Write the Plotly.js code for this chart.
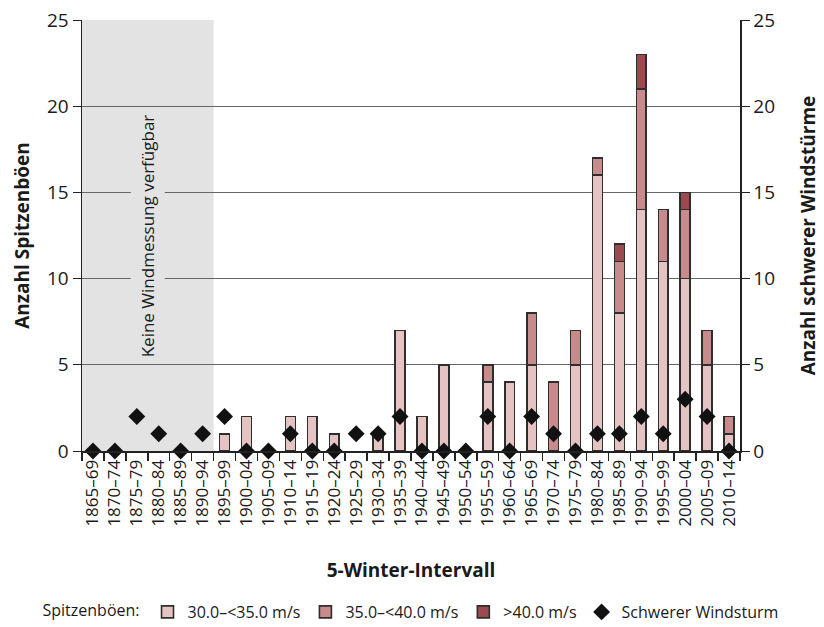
<!DOCTYPE html>
<html>
<head>
<meta charset="utf-8">
<script src="https://cdn.plot.ly/plotly-3.0.1.min.js"></script>
<style>html,body{margin:0;padding:0;background:#fff;}#chart{width:824px;height:627px;}</style>
</head>
<body>
<div id="chart"></div>
<script>
const categories = ["1865–69","1870–74","1875–79","1880–84","1885–89","1890–94","1895–99","1900–04","1905–09","1910–14","1915–19","1920–24","1925–29","1930–34","1935–39","1940–44","1945–49","1950–54","1955–59","1960–64","1965–69","1970–74","1975–79","1980–84","1985–89","1990–94","1995–99","2000–04","2005–09","2010–14"];
const gust30_35 = [0,0,0,0,0,0,1,2,0,2,2,1,0,1,7,2,5,0,4,4,5,0,5,16,8,14,11,10,5,1];
const gust35_40 = [0,0,0,0,0,0,0,0,0,0,0,0,0,0,0,0,0,0,1,0,3,4,2,1,3,7,3,4,2,1];
const gust40 =    [0,0,0,0,0,0,0,0,0,0,0,0,0,0,0,0,0,0,0,0,0,0,0,0,1,2,0,1,0,0];
const storms =    [0,0,2,1,0,1,2,0,0,1,0,0,1,1,2,0,0,0,2,0,2,1,0,1,1,2,1,3,2,0];
const yTicks = [0,5,10,15,20,25];

// zero-height bars are not drawn (avoid stray outlines)
const nz = arr => arr.map(v => v === 0 ? null : v);

const FONT = "Open Sans, Noto Sans, sans-serif";
const edge = {color:"#2e2e2e", width:1.6};
const traces = [
  {type:"bar", name:"30.0–<35.0 m/s", x:categories, y:nz(gust30_35), width:0.45,
   marker:{color:"#e6c3c3", line:edge}},
  {type:"bar", name:"35.0–<40.0 m/s", x:categories, y:nz(gust35_40), width:0.45,
   marker:{color:"#c78b8b", line:edge}},
  {type:"bar", name:">40.0 m/s", x:categories, y:nz(gust40), width:0.45,
   marker:{color:"#9b4a50", line:edge}},
  {type:"scatter", mode:"markers", name:"Schwerer Windsturm", x:categories, y:storms, yaxis:"y2",
   marker:{symbol:"diamond", color:"#111111", size:13}, cliponaxis:false}
];

const layout = {
  width:824, height:627,
  margin:{l:82, r:84, t:20, b:176, autoexpand:false},
  paper_bgcolor:"#ffffff", plot_bgcolor:"rgba(0,0,0,0)",
  font:{family:FONT, size:15, color:"#1a1a1a"},
  barmode:"stack",
  showlegend:true,
  legend:{orientation:"h", xref:"container", x:0.5, xanchor:"center", y:-0.3735, yanchor:"middle",
    title:{text:"Spitzenböen:", side:"left", font:{size:16}},
    font:{size:16}, traceorder:"normal", itemwidth:30, tracegroupgap:0},
  xaxis:{type:"category", categoryorder:"array", categoryarray:categories,
    range:[-0.5, categories.length-0.5], tickangle:-90, tickson:"boundaries",
    ticks:"outside", ticklen:8, tickcolor:"#222", tickwidth:1.5,
    showline:true, linecolor:"#222", linewidth:2, showgrid:false, zeroline:false,
    tickfont:{size:17}, automargin:false,
    title:{text:"<b>5-Winter-Intervall</b>", font:{size:19}, standoff:38}},
  yaxis:{range:[0,25], tickvals:yTicks, ticks:"outside", ticklen:8, tickcolor:"#222",
    showline:true, linecolor:"#222", linewidth:1.5, showgrid:true, gridcolor:"#666", gridwidth:1,
    zeroline:false, tickfont:{size:19}, automargin:false,
    title:{text:"<b>Anzahl Spitzenböen</b>", font:{size:19}, standoff:12}},
  yaxis2:{overlaying:"y", side:"right", range:[0,25], tickvals:yTicks, ticks:"outside", ticklen:8,
    tickcolor:"#222", showline:true, linecolor:"#222", linewidth:1.5, showgrid:false, zeroline:false,
    tickfont:{size:19}, automargin:false},
  shapes:[{type:"rect", xref:"x", yref:"paper", x0:-0.5, x1:5.5, y0:0, y1:1,
    fillcolor:"#e3e3e3", line:{width:0}, layer:"below"}],
  annotations:[
    {xref:"x", yref:"y", x:2.5, y:12.5, text:"Keine Windmessung verfügbar",
     textangle:-90, showarrow:false, font:{size:17, color:"#1a1a1a"}, bgcolor:"#e3e3e3", borderpad:5},
    {xref:"paper", yref:"paper", x:1.103, y:0.5, xanchor:"center", yanchor:"middle",
     text:"<b>Anzahl schwerer Windstürme</b>", textangle:-90, showarrow:false,
     font:{size:19, color:"#1a1a1a"}}
  ]
};
Plotly.newPlot("chart", traces, layout, {displayModeBar:false, staticPlot:true});
</script>
</body>
</html>
